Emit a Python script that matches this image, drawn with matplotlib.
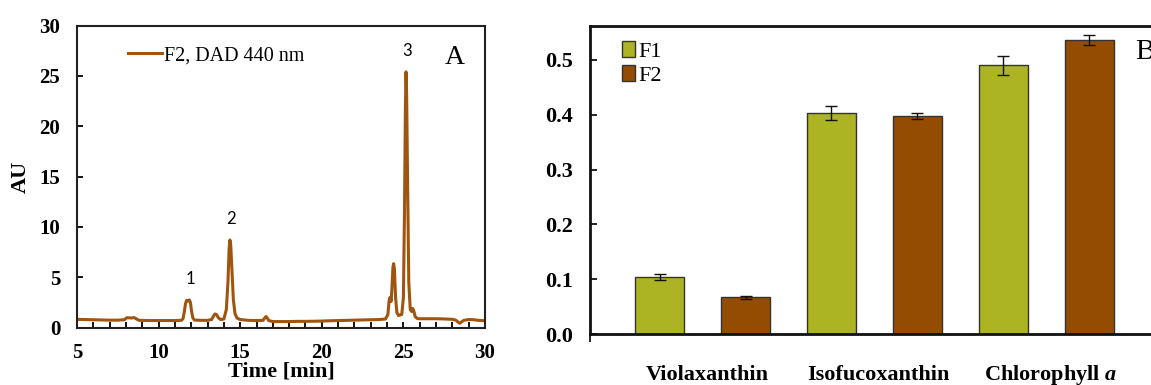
import matplotlib
matplotlib.use("Agg")
import matplotlib.pyplot as plt
import numpy as np

plt.rcParams["font.family"] = ["Liberation Serif", "DejaVu Serif"]
plt.rcParams["mathtext.fontset"] = "custom"
plt.rcParams["mathtext.it"] = "Liberation Serif:italic:bold"
plt.rcParams["mathtext.rm"] = "Liberation Serif:bold"

# ---- Panel A: chromatogram of fraction F2 (DAD 440 nm) ----
time_min = [5.0, 5.5, 6.0, 6.5, 7.0, 7.5, 7.9, 8.05, 8.2, 8.35, 8.5, 8.65, 8.8,
            9.5, 10.0, 10.5, 11.0, 11.4,
            11.5, 11.58, 11.65, 11.72, 11.8, 11.88, 11.95, 12.02, 12.1, 12.2,
            12.6, 13.0, 13.25, 13.35, 13.45, 13.55, 13.65, 13.8,
            14.0, 14.15, 14.25, 14.32, 14.37, 14.42, 14.5, 14.58, 14.68, 14.8,
            15.0, 15.5, 16.0, 16.4, 16.5, 16.58, 16.66, 16.75,
            17.0, 17.5, 18.0, 18.5, 19.0, 19.5, 20.0, 20.5, 21.0, 21.5, 22.0,
            22.5, 23.0, 23.5, 23.9,
            24.05, 24.12, 24.18, 24.25, 24.3, 24.36, 24.4, 24.45, 24.52, 24.6,
            24.7, 24.8, 24.9,
            25.0, 25.07, 25.12, 25.16, 25.2, 25.26, 25.33, 25.42, 25.5, 25.57,
            25.63, 25.72, 25.85,
            26.0, 26.5, 27.0, 27.5, 28.0, 28.2, 28.35, 28.45, 28.55, 28.7,
            29.0, 29.3, 29.6, 30.0]
absorbance = [0.82, 0.80, 0.78, 0.76, 0.74, 0.74, 0.78, 0.98, 0.97, 0.95, 1.0, 0.85, 0.72,
              0.70, 0.70, 0.70, 0.70, 0.72,
              0.9, 1.6, 2.4, 2.7, 2.65, 2.75, 2.5, 1.6, 0.95, 0.75,
              0.72, 0.72, 0.8, 1.1, 1.35, 1.3, 1.0, 0.8,
              0.85, 1.8, 4.5, 7.8, 8.7, 8.2, 5.5, 2.8, 1.4, 0.95,
              0.8, 0.72, 0.7, 0.72, 0.95, 1.1, 0.95, 0.7,
              0.6, 0.6, 0.6, 0.62, 0.62, 0.63, 0.65, 0.68, 0.7, 0.72, 0.74,
              0.76, 0.78, 0.8, 0.85,
              1.3, 2.6, 3.0, 2.6, 4.0, 6.0, 6.35, 5.8, 3.0, 1.5,
              1.2, 1.25, 1.3,
              3.0, 12.0, 21.5, 25.4, 23.0, 14.0, 4.5, 1.8, 1.6, 1.9,
              1.7, 1.1, 0.9,
              0.88, 0.88, 0.88, 0.86, 0.82, 0.75, 0.55, 0.43, 0.55, 0.72,
              0.8, 0.78, 0.72, 0.68]
peak_labels = ["1", "2", "3"]
peak_times = [11.88, 14.37, 25.16]
peak_heights = [2.75, 8.7, 25.4]

# ---- Panel B: pigment content in fractions F1 and F2 ----
pigments = ["Violaxanthin", "Isofucoxanthin", "Chlorophyll $a$"]
f1_values = [0.104, 0.403, 0.490]
f1_errors = [0.006, 0.013, 0.017]
f2_values = [0.067, 0.398, 0.536]
f2_errors = [0.003, 0.005, 0.009]

line_color = "#A0550F"
f1_color = "#ADB424"
f2_color = "#944C02"

W, H = 1151, 385
fig = plt.figure(figsize=(W / 100, H / 100), dpi=100)

# Panel A
axA = fig.add_axes([77 / W, 1 - 327.6 / H, (485 - 77) / W, (327.6 - 25.5) / H])
axA.plot(time_min, absorbance, color=line_color, lw=2.2, solid_joinstyle="round",
         label="F2, DAD 440 nm")
axA.set_xlim(5, 30)
axA.set_ylim(0, 30)
axA.set_xticks(np.arange(5, 31, 5))
axA.set_xticks(np.arange(5, 31, 1), minor=True)
axA.set_yticks(np.arange(0, 31, 5))
axA.tick_params(axis="both", which="both", direction="in", width=1.3, length=4,
                labelsize=15)
axA.tick_params(axis="y", which="both", pad=12)
axA.tick_params(axis="x", which="both", pad=11)
for lbl in axA.get_xticklabels() + axA.get_yticklabels():
    lbl.set_fontweight("bold")
for sp in axA.spines.values():
    sp.set_linewidth(1.5)
    sp.set_color("#222222")
axA.set_xlabel("Time [min]", fontsize=16, fontweight="bold", labelpad=-1)
axA.set_ylabel("AU", fontsize=16, fontweight="bold", labelpad=6)
axA.legend(loc="center left", bbox_to_anchor=(0.125, 0.9), frameon=False,
           fontsize=14.5, handlelength=1.7, handletextpad=0.1,
           borderaxespad=0, borderpad=0)
for lbl, t, h in zip(peak_labels, peak_times, peak_heights):
    axA.annotate(lbl, xy=(t, h), xytext=(1, 9), textcoords="offset points",
                 ha="center", va="bottom", fontsize=12, family=["Lato", "DejaVu Sans"])
axA.text(0.925, 0.895, "A", transform=axA.transAxes, fontsize=20,
         ha="center", va="center")

# Panel B
axB = fig.add_axes([590 / W, 1 - 334 / H, (1175 - 590) / W, (334 - 26) / H])
group_x = np.arange(len(pigments)) * 2.0
bar_w = 0.57
err_kw = dict(ecolor="#111111", elinewidth=1.0, capsize=4.5, capthick=1.0)
axB.bar(group_x, f1_values, bar_w, yerr=f1_errors, color=f1_color,
        edgecolor="#333333", linewidth=1.0, error_kw=err_kw, label="F1", zorder=2)
axB.bar(group_x + 1, f2_values, bar_w, yerr=f2_errors, color=f2_color,
        edgecolor="#333333", linewidth=1.0, error_kw=err_kw, label="F2", zorder=2)
x_left = -69.5 / 86
axB.set_xlim(x_left, (1175 - 659.5) / 86)
axB.set_ylim(0, 0.562)
axB.set_yticks(np.arange(0, 0.51, 0.1))
axB.yaxis.set_major_formatter(matplotlib.ticker.FormatStrFormatter("%.1f"))
axB.tick_params(axis="y", direction="in", length=5, width=1.2, labelsize=16, pad=12)
axB.set_xticks(group_x + 0.55)
axB.set_xticklabels(pigments, fontsize=16, fontweight="bold", va="baseline")
axB.tick_params(axis="x", which="major", length=0, pad=33)
axB.set_xticks([x_left], minor=True)
axB.tick_params(axis="x", which="minor", direction="out", length=6, width=1.2)
for lbl in axB.get_yticklabels():
    lbl.set_fontweight("bold")
for sp in axB.spines.values():
    sp.set_linewidth(2.0)
    sp.set_color("#111111")
axB.legend(loc="upper left", bbox_to_anchor=(32 / 585, 1 - 15 / 308), frameon=False,
           fontsize=16, handlelength=0.6, handleheight=0.75, handletextpad=0.15,
           labelspacing=0.15, borderaxespad=0, borderpad=0)
axB.text(1135 / W, 1 - 52 / H, "B", transform=fig.transFigure, fontsize=21,
         ha="left", va="center")

fig.savefig("out.png", dpi=100)
